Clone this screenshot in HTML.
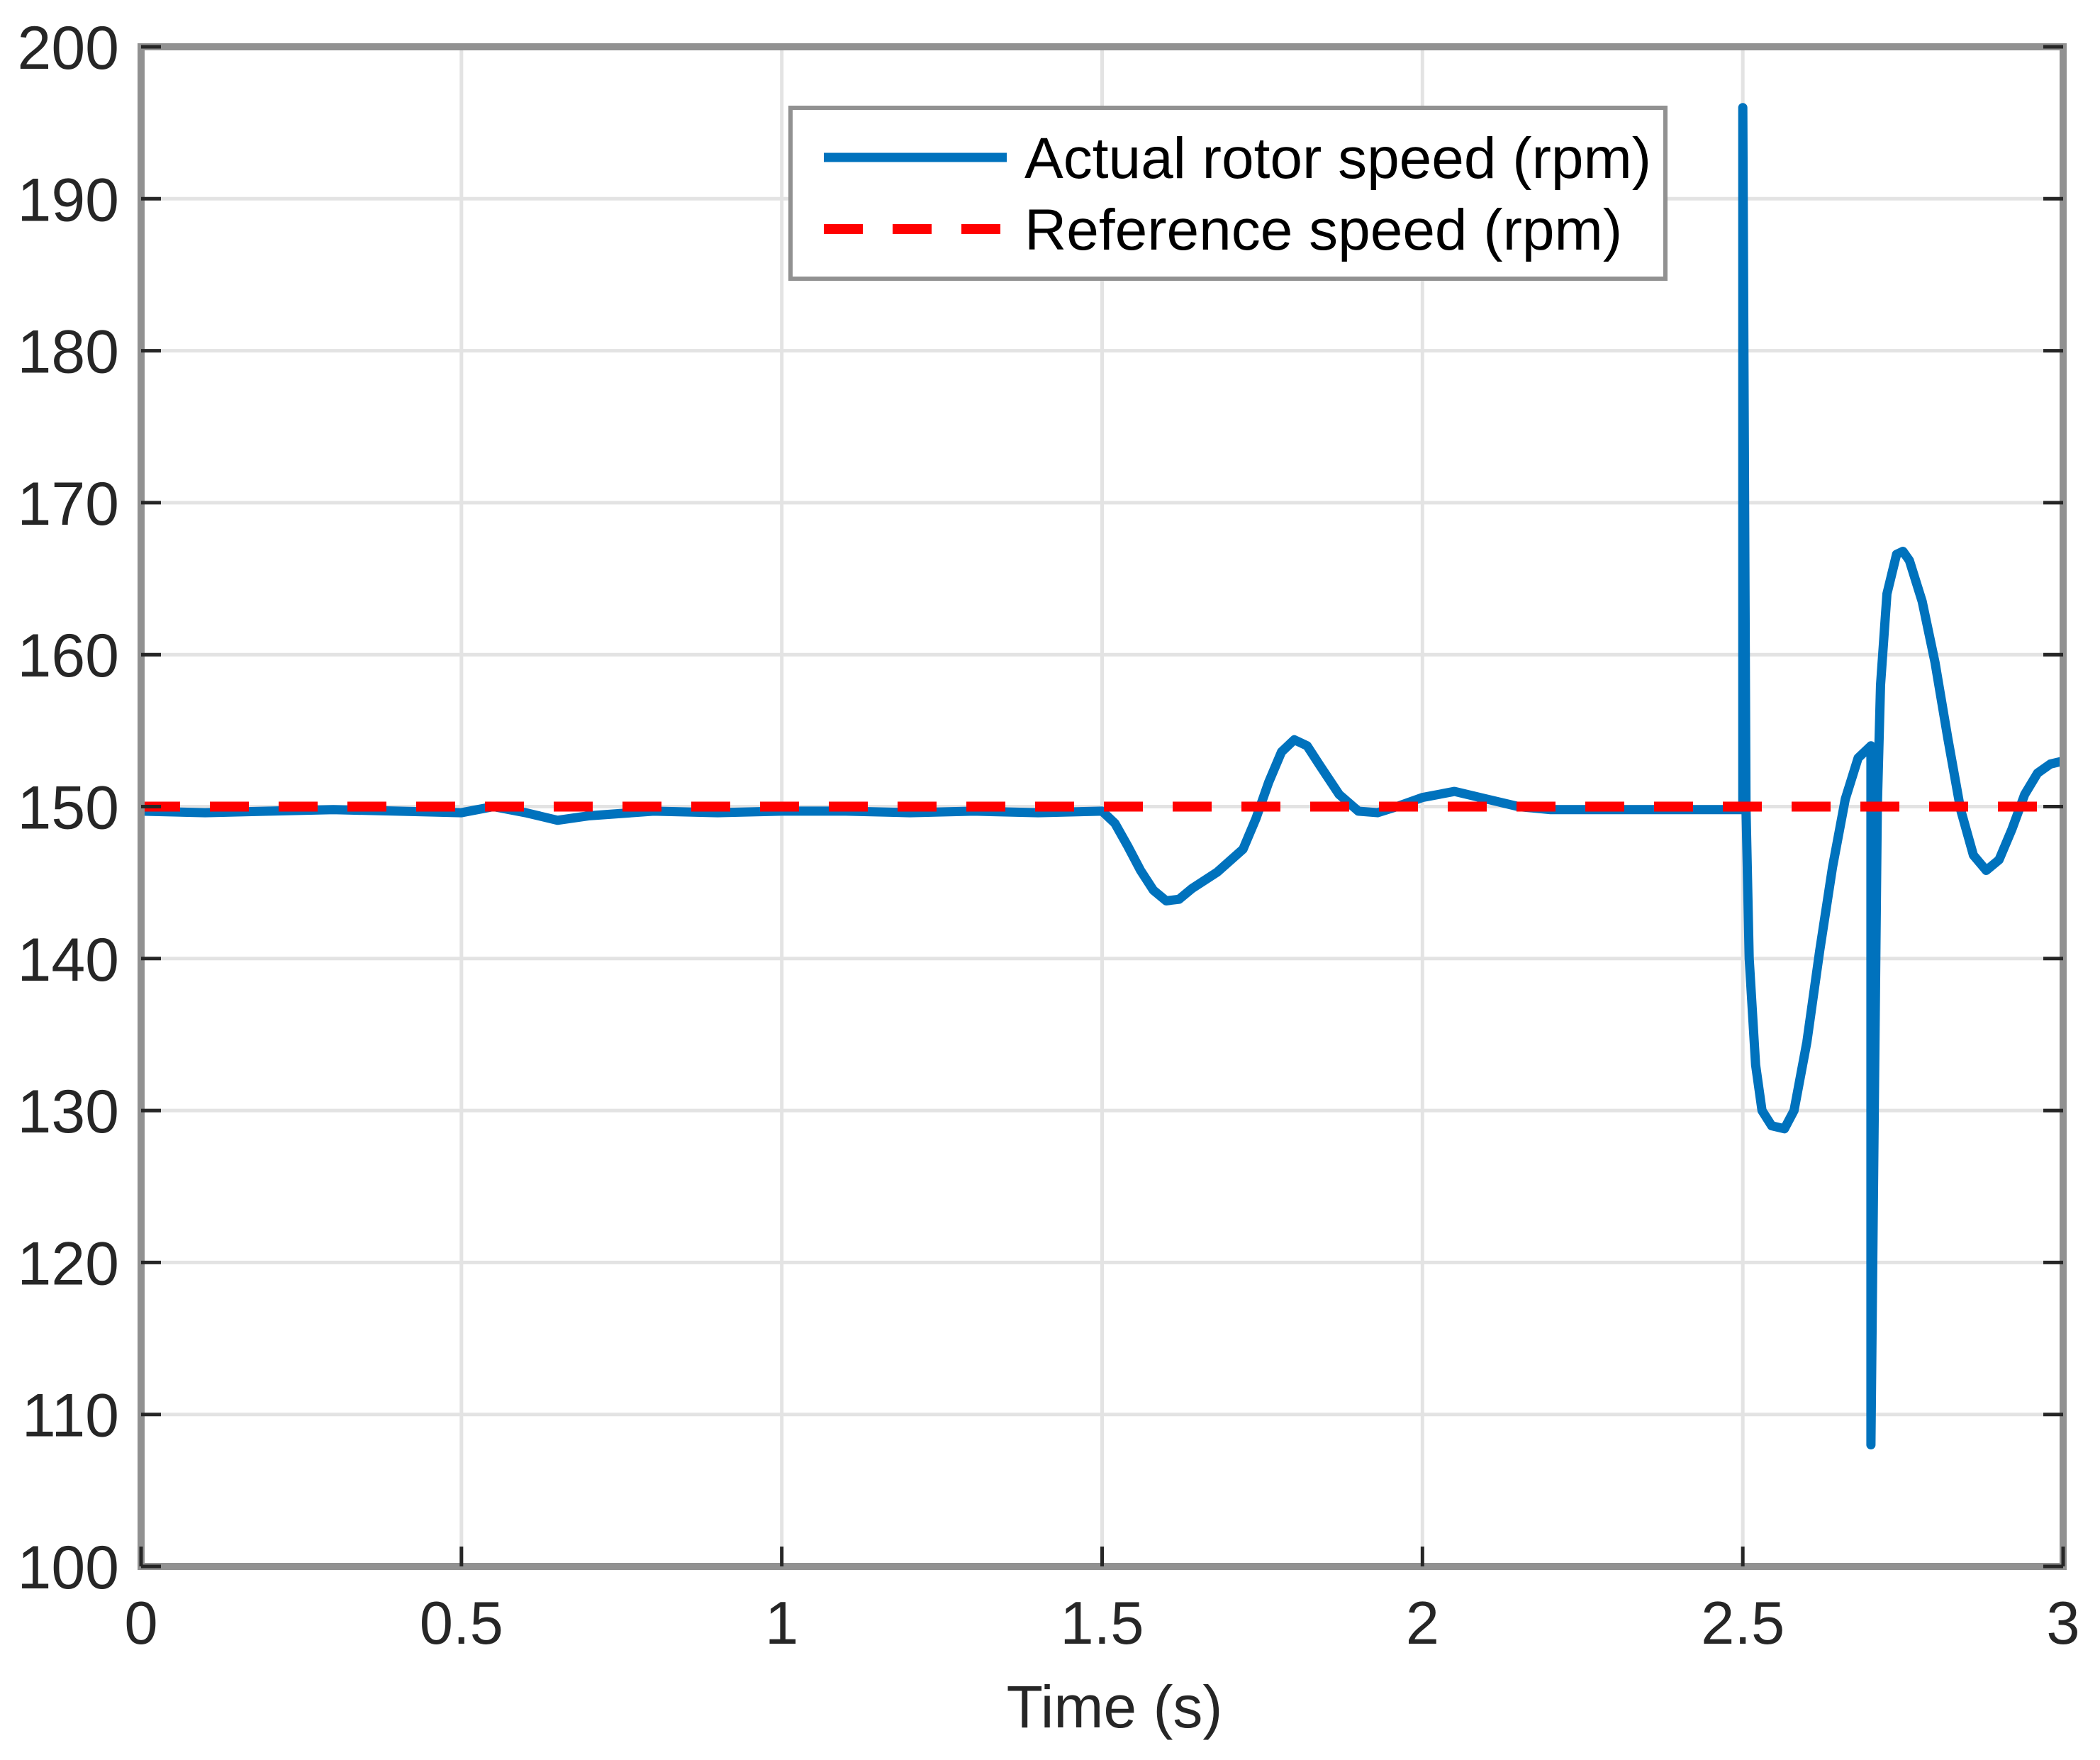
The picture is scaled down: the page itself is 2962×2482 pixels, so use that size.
<!DOCTYPE html>
<html><head><meta charset="utf-8"><style>
html,body{margin:0;padding:0;background:#fff;}
svg{display:block;font-family:"Liberation Sans",sans-serif;}
</style></head><body>
<svg id="chart" width="2962" height="2482" viewBox="0 0 2962 2482" xmlns="http://www.w3.org/2000/svg">
<rect width="2962" height="2482" fill="#fff"/>
<g id="grid"></g>
<g id="series"></g>
<rect x="199" y="66" width="2711" height="2143" fill="none" stroke="#919191" stroke-width="10"/>
<g id="ticks"></g>
<text x="1572" y="2436" font-size="84" text-anchor="middle" fill="#262626">Time (s)</text>
<g>
<rect x="1115" y="152" width="1234" height="241" fill="#fff" stroke="#919191" stroke-width="6"/>
<line x1="1162" y1="222" x2="1420" y2="222" stroke="#0072bd" stroke-width="13"/>
<text x="1445" y="251" font-size="82" fill="#000">Actual rotor speed (rpm)</text>
<line x1="1162" y1="323" x2="1420" y2="323" stroke="#ff0000" stroke-width="14" stroke-dasharray="55,42"/>
<text x="1445" y="352" font-size="82" fill="#000">Reference speed (rpm)</text>
</g>
</svg>
<script>
const xTicks=[0,0.5,1,1.5,2,2.5,3];
const xTickLabels=["0","0.5","1","1.5","2","2.5","3"];
const yTicks=[100,110,120,130,140,150,160,170,180,190,200];
const yTickLabels=["100","110","120","130","140","150","160","170","180","190","200"];
const actualT=[0,0.1,0.2,0.3,0.4,0.5,0.55,0.6,0.65,0.7,0.8,0.9,1.0,1.1,1.2,1.3,1.4,1.5,1.52,1.54,1.56,1.58,1.6,1.62,1.64,1.68,1.72,1.74,1.76,1.78,1.8,1.82,1.84,1.87,1.9,1.93,1.96,2.0,2.05,2.1,2.15,2.2,2.3,2.4,2.49,2.5,2.5,2.505,2.51,2.52,2.53,2.545,2.565,2.58,2.6,2.62,2.64,2.66,2.68,2.7,2.7,2.71,2.715,2.725,2.74,2.75,2.76,2.78,2.8,2.82,2.84,2.86,2.88,2.9,2.92,2.94,2.96,2.98,3.0];
const actualV=[149.7,149.6,149.7,149.8,149.7,149.6,150,149.6,149.1,149.4,149.7,149.6,149.7,149.7,149.6,149.7,149.6,149.7,148.9,147.4,145.8,144.5,143.8,143.9,144.6,145.7,147.2,149.2,151.6,153.6,154.4,154,152.7,150.8,149.7,149.6,150,150.6,151,150.5,150,149.8,149.8,149.8,149.8,149.8,196,150,140,133,130,129,128.8,130,134.5,140.5,146,150.5,153.2,154,108,150,158,164,166.6,166.8,166.2,163.5,159.5,154.5,149.8,146.8,145.8,146.5,148.5,150.8,152.2,152.8,153];
const refT=[0,3];
const refV=[150,150];
const L=199,R=2910,T=66,B=2209;
const xS=t=>L+(t-0)/(3-0)*(R-L);
const yS=v=>B-(v-100)/(200-100)*(B-T);
const NS="http://www.w3.org/2000/svg";
const grid=document.getElementById('grid'),ticks=document.getElementById('ticks'),series=document.getElementById('series');
function mk(tag,attrs,parent){const e=document.createElementNS(NS,tag);for(const k in attrs)e.setAttribute(k,attrs[k]);parent.appendChild(e);return e;}
xTicks.forEach((t,i)=>{
 const x=xS(t);
 const g=mk('line',{x1:x,y1:T,x2:x,y2:B,stroke:'#e3e3e3','stroke-width':5},grid);
 
 
 const tk=mk('line',{x1:x,y1:B,x2:x,y2:B-28,stroke:'#262626','stroke-width':5},ticks);
 
 
 const tx=mk('text',{x:x,y:2318,'font-size':85,'text-anchor':'middle',fill:'#262626'},ticks);
 tx.textContent=xTickLabels[i];
 
 
});
yTicks.forEach((v,i)=>{
 const y=yS(v);
 const g=mk('line',{x1:L,y1:y,x2:R,y2:y,stroke:'#e3e3e3','stroke-width':5},grid);
 
 
 const tk=mk('line',{x1:L,y1:y,x2:L+28,y2:y,stroke:'#262626','stroke-width':5},ticks);
 
 
 const tk2=mk('line',{x1:R,y1:y,x2:R-28,y2:y,stroke:'#262626','stroke-width':5},ticks);
 
 
 const tx=mk('text',{x:168,y:y+31,'font-size':86,'text-anchor':'end',fill:'#262626'},ticks);
 tx.textContent=yTickLabels[i];
 
 
});
const ref=mk('polyline',{points:refT.map((t,i)=>xS(t)+','+yS(refV[i])).join(' '),fill:'none',stroke:'#ff0000','stroke-width':14,'stroke-dasharray':'55,42'},series);


const act=mk('polyline',{points:actualT.map((t,i)=>xS(t)+','+yS(actualV[i])).join(' '),fill:'none',stroke:'#0072bd','stroke-width':13,'stroke-linejoin':'round'},series);


series.appendChild(ref);
</script>
</body></html>
